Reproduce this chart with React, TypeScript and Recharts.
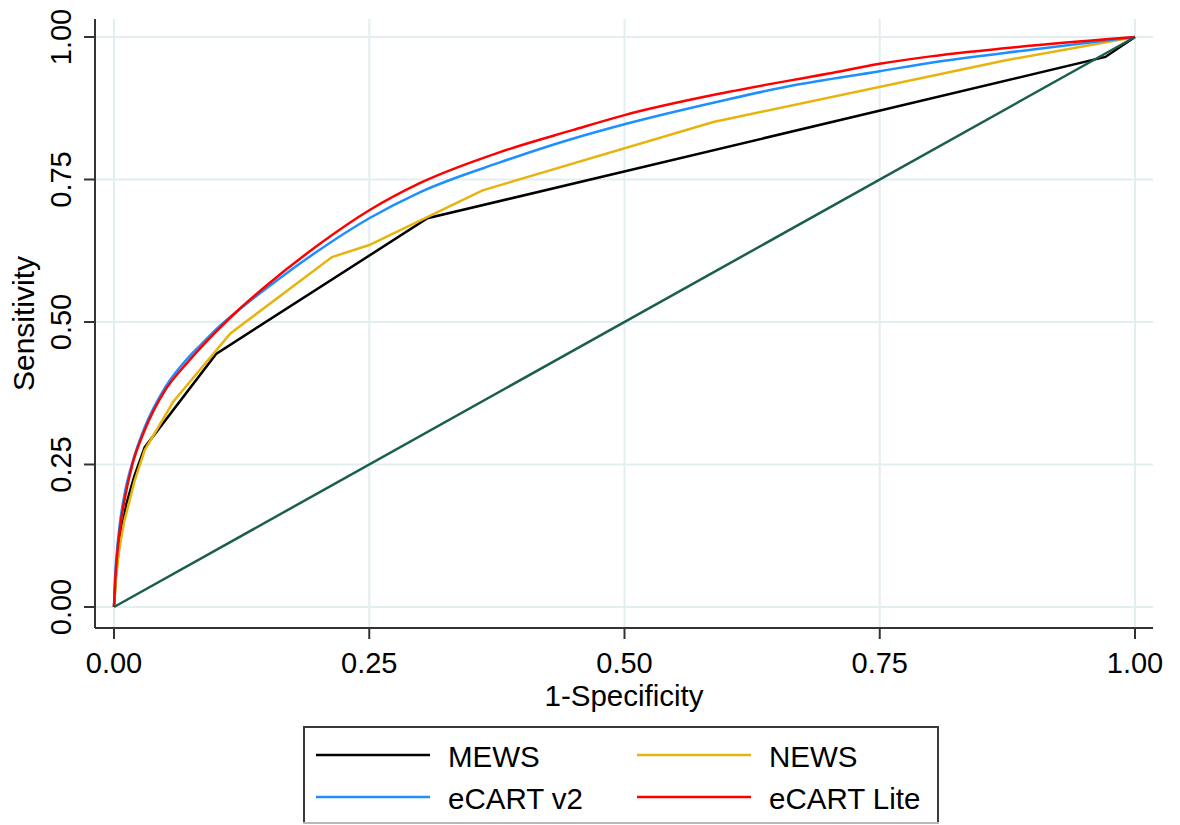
import React from 'react';
import { LineChart, Line, XAxis, YAxis, CartesianGrid, Legend, Label } from 'recharts';

const FONT = "'Liberation Sans', Arial, Helvetica, sans-serif";

const xTicks = [0, 0.25, 0.5, 0.75, 1];
const yTicks = [0, 0.25, 0.5, 0.75, 1];
const tickLabels = ['0.00', '0.25', '0.50', '0.75', '1.00'];

const seriesNames = ['MEWS', 'NEWS', 'eCART v2', 'eCART Lite'];
const seriesColors = ['#000000', '#e6b40c', '#1e8fff', '#ff0000'];
const seriesCurve = ['linear', 'linear', 'monotoneX', 'monotoneX'];
const diagColor = '#1b5e4f';

const mewsPts: [number, number][] = [
  [0, 0], [0.002, 0.06], [0.006, 0.12], [0.012, 0.18], [0.02, 0.23], [0.03, 0.28],
  [0.1, 0.444], [0.307, 0.682], [0.971, 0.965], [1, 1],
];
const newsPts: [number, number][] = [
  [0, 0], [0.002, 0.05], [0.005, 0.1], [0.01, 0.15], [0.02, 0.22], [0.03, 0.275],
  [0.058, 0.36], [0.114, 0.48], [0.2135, 0.614], [0.25, 0.635], [0.361, 0.731],
  [0.587, 0.851], [0.87, 0.958], [1, 1],
];
const ecartV2Pts: [number, number][] = [
  [0, 0], [0.001, 0.05], [0.003, 0.1], [0.006, 0.15], [0.01, 0.195], [0.02, 0.265],
  [0.03, 0.315], [0.05, 0.385], [0.07, 0.432], [0.085, 0.46], [0.1, 0.487],
  [0.12, 0.518], [0.15, 0.56], [0.2, 0.625], [0.25, 0.682], [0.3, 0.728],
  [0.378, 0.78], [0.45, 0.822], [0.5, 0.847], [0.6, 0.89], [0.662, 0.914],
  [0.75, 0.94], [0.8, 0.955], [0.9, 0.978], [1, 1],
];
const ecartLitePts: [number, number][] = [
  [0, 0], [0.001, 0.04], [0.003, 0.09], [0.006, 0.14], [0.01, 0.185], [0.018, 0.25],
  [0.03, 0.31], [0.05, 0.38], [0.07, 0.425], [0.085, 0.455], [0.1, 0.483],
  [0.12, 0.518], [0.15, 0.565], [0.2, 0.635], [0.25, 0.696], [0.3, 0.744],
  [0.378, 0.798], [0.45, 0.837], [0.5, 0.863], [0.6, 0.903], [0.7, 0.936],
  [0.75, 0.953], [0.8, 0.966], [0.9, 0.985], [1, 1],
];
const diagPts: [number, number][] = [[0, 0], [1, 1]];

const toData = (pts: [number, number][]) => pts.map(([x, y]) => ({ x, y }));
const allSeries = [mewsPts, newsPts, ecartV2Pts, ecartLitePts];

const fmt = (v: number) => tickLabels[xTicks.indexOf(v)] ?? v.toFixed(2);

const YTick = (props: any) => {
  const { x, y, payload } = props;
  return (
    <text
      x={x}
      y={y}
      transform={`rotate(-90 ${x} ${y})`}
      textAnchor="middle"
      fontSize={29}
      fontFamily={FONT}
      fill="#000"
    >
      {fmt(payload.value)}
    </text>
  );
};

const XTitle = (props: any) => {
  const vb = props.viewBox || {};
  return (
    <text
      x={vb.x + vb.width / 2}
      y={vb.y + 78}
      textAnchor="middle"
      fontSize={29.5}
      fontFamily={FONT}
      fill="#000"
    >
      1-Specificity
    </text>
  );
};

const YTitle = (props: any) => {
  const vb = props.viewBox || {};
  const cx = 34;
  const cy = vb.y + vb.height / 2;
  return (
    <text
      x={cx}
      y={cy}
      transform={`rotate(-90 ${cx} ${cy})`}
      textAnchor="middle"
      fontSize={30}
      fontFamily={FONT}
      fill="#000"
    >
      Sensitivity
    </text>
  );
};

const LegendBox = (props: any) => {
  const payload = (props.payload || [])
    .filter((p: any) => seriesNames.includes(p.value))
    .sort((a: any, b: any) => seriesNames.indexOf(a.value) - seriesNames.indexOf(b.value));
  const colLine = [13, 334];
  const rowY = [29, 71];
  const rowBase = [41, 83];
  return (
    <svg width={636} height={98} style={{ display: 'block' }}>
      <rect x={1} y={1} width={634} height={96} fill="#fff" stroke="#3a3a3a" strokeWidth={2} />
      <line x1={0} x2={636} y1={97} y2={97} stroke="#b8b8b8" strokeWidth={2} />
      {payload.map((p: any, i: number) => {
        const c = i % 2;
        const r = Math.floor(i / 2);
        return (
          <g key={p.value}>
            <line
              x1={colLine[c]}
              x2={colLine[c] + 114}
              y1={rowY[r]}
              y2={rowY[r]}
              stroke={p.color}
              strokeWidth={2.5}
            />
            <text
              x={colLine[c] + 132}
              y={rowBase[r]}
              fontSize={29.5}
              fontFamily={FONT}
              fill="#000"
            >
              {p.value}
            </text>
          </g>
        );
      })}
    </svg>
  );
};

export default function App() {
  return (
    <div style={{ position: 'absolute', left: 0, top: 0, width: 1180, height: 825, background: '#fff', fontFamily: FONT }}>
      <LineChart
        width={1180}
        height={825}
        margin={{ top: 19, right: 27, bottom: 137, left: 15 }}
      >
        <CartesianGrid stroke="#e3eef1" strokeWidth={2} horizontalValues={yTicks} verticalValues={xTicks} />
        <XAxis
          type="number"
          dataKey="x"
          domain={[-19 / 1021, 1 + 18 / 1021]}
          allowDataOverflow
          ticks={xTicks}
          tickFormatter={fmt}
          height={60}
          tickSize={11}
          tickMargin={13}
          axisLine={{ stroke: '#333', strokeWidth: 2 }}
          tickLine={{ stroke: '#333', strokeWidth: 2 }}
          tick={{ fontSize: 29, fill: '#000', fontFamily: FONT }}
          interval={0}
        >
          <Label content={<XTitle />} />
        </XAxis>
        <YAxis
          type="number"
          dataKey="y"
          domain={[-21 / 570, 1 + 18 / 570]}
          allowDataOverflow
          ticks={yTicks}
          width={80}
          tickSize={11}
          tickMargin={13}
          axisLine={{ stroke: '#333', strokeWidth: 2 }}
          tickLine={{ stroke: '#333', strokeWidth: 2 }}
          tick={<YTick />}
          interval={0}
        >
          <Label content={<YTitle />} />
        </YAxis>
        {allSeries.map((pts, i) => (
          <Line
            key={seriesNames[i]}
            data={toData(pts)}
            dataKey="y"
            name={seriesNames[i]}
            type={seriesCurve[i] as any}
            stroke={seriesColors[i]}
            strokeWidth={2.5}
            dot={false}
            activeDot={false}
            isAnimationActive={false}
          />
        ))}
        <Line
          data={toData(diagPts)}
          dataKey="y"
          name="Reference"
          type="linear"
          stroke={diagColor}
          strokeWidth={2.5}
          dot={false}
          activeDot={false}
          legendType="none"
          isAnimationActive={false}
        />
        <Legend
          layout="horizontal"
          verticalAlign="middle"
          align="center"
          content={<LegendBox />}
          wrapperStyle={{ position: 'absolute', left: 303, top: 726, width: 636, height: 98 }}
        />
      </LineChart>
    </div>
  );
}
